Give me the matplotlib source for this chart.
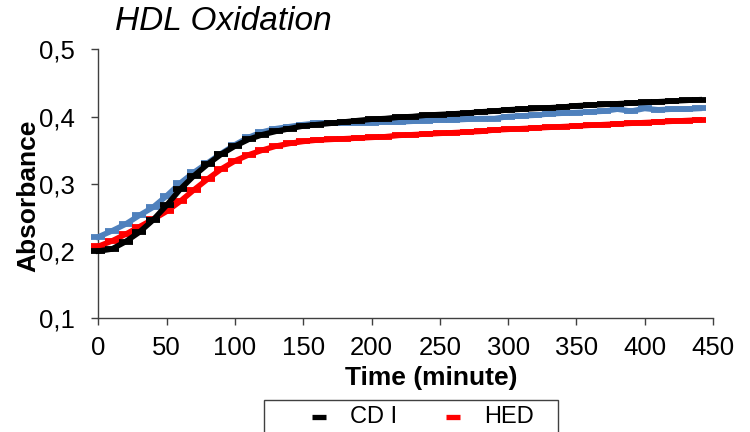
import matplotlib
matplotlib.use("Agg")
import matplotlib.pyplot as plt
from matplotlib.patches import Rectangle
from matplotlib.lines import Line2D

plt.rcParams['font.family'] = ['Liberation Sans', 'DejaVu Sans']

# time points (minutes), read every 10 min from the picture
time_min = [0, 10, 20, 30, 40, 50, 60, 70, 80, 90, 100, 110, 120, 130, 140,
            150, 160, 170, 180, 190, 200, 210, 220, 230, 240, 250, 260, 270,
            280, 290, 300, 310, 320, 330, 340, 350, 360, 370, 380, 390, 400,
            410, 420, 430, 440]

cd_i = [0.200, 0.203, 0.214, 0.228, 0.246, 0.268, 0.292, 0.312, 0.329, 0.344,
        0.356, 0.366, 0.373, 0.378, 0.382, 0.386, 0.388, 0.390, 0.392, 0.394,
        0.396, 0.397, 0.399, 0.400, 0.402, 0.403, 0.404, 0.405, 0.407, 0.408,
        0.410, 0.411, 0.412, 0.413, 0.414, 0.416, 0.417, 0.418, 0.419, 0.420,
        0.421, 0.422, 0.423, 0.424, 0.425]

hed = [0.207, 0.215, 0.225, 0.236, 0.247, 0.259, 0.274, 0.291, 0.307, 0.322,
       0.334, 0.343, 0.350, 0.356, 0.360, 0.363, 0.365, 0.366, 0.367, 0.368,
       0.369, 0.370, 0.372, 0.373, 0.374, 0.375, 0.376, 0.377, 0.378, 0.380,
       0.381, 0.382, 0.383, 0.384, 0.385, 0.386, 0.387, 0.388, 0.389, 0.390,
       0.391, 0.392, 0.393, 0.394, 0.395]

# third series (blue), not named in the visible part of the legend
third = [0.221, 0.230, 0.240, 0.253, 0.265, 0.282, 0.301, 0.317, 0.331, 0.345,
         0.358, 0.369, 0.377, 0.382, 0.385, 0.388, 0.390, 0.390, 0.391, 0.391,
         0.391, 0.392, 0.392, 0.393, 0.394, 0.395, 0.395, 0.396, 0.397, 0.397,
         0.400, 0.401, 0.402, 0.404, 0.405, 0.406, 0.407, 0.408, 0.411, 0.408,
         0.412, 0.410, 0.411, 0.411, 0.412]

x_ticks = [0, 50, 100, 150, 200, 250, 300, 350, 400, 450]
y_ticks = [0.1, 0.2, 0.3, 0.4, 0.5]
y_tick_labels = ['0,1', '0,2', '0,3', '0,4', '0,5']

W, H = 750, 432
fig = plt.figure(figsize=(7.5, 4.32), dpi=100)
ax = fig.add_axes([98.3 / W, 1 - 318.3 / H, (713 - 98.3) / W, (318.3 - 49.3) / H])

# thick line plus flat dash markers -> stepped band like the original
dash = dict(linestyle='-', linewidth=4.0, marker='_', markersize=10.5,
            markeredgewidth=4.2, clip_on=False)
ax.plot(time_min, third, color='#4F81BD', zorder=3, **dash)
ax.plot(time_min, hed, color='#FF0000', zorder=4, **dash)
ax.plot(time_min, cd_i, color='#000000', zorder=5, **dash)

ax.set_xlim(0, 450)
ax.set_ylim(0.1, 0.5)
ax.set_xticks(x_ticks)
ax.set_yticks(y_ticks)
ax.set_yticklabels(y_tick_labels)

for s in ['top', 'right']:
    ax.spines[s].set_visible(False)
for s in ['left', 'bottom']:
    ax.spines[s].set_color('#404040')
    ax.spines[s].set_linewidth(1.0)
ax.tick_params(axis='both', direction='out', length=5, width=1.0, color='#404040',
               labelsize=18.5, labelcolor='black')
ax.tick_params(axis='y', pad=12)
ax.tick_params(axis='x', pad=8)

fig.text(223 / W, 1 - 21 / H, 'HDL Oxidation', fontsize=24, style='italic',
         ha='center', va='center')
fig.text(28 / W, 1 - 196 / H, 'Absorbance', fontsize=19, fontweight='bold',
         rotation=90, ha='center', va='center')
fig.text(431 / W, 1 - 378 / H, 'Time (minute)', fontsize=19, fontweight='bold',
         ha='center', va='center')

# legend box, cut off by the bottom edge as in the original
fig.add_artist(Rectangle((264 / W, 1 - 445 / H), (558 - 264) / W, 45 / H,
                         transform=fig.transFigure, fill=False,
                         edgecolor='#404040', linewidth=1.0))
legend_items = [('CD I', '#000000', 319, 350), ('HED', '#FF0000', 453, 484)]
for name, col, hx, tx in legend_items:
    fig.add_artist(Line2D([(hx - 7) / W, (hx + 7) / W], [1 - 417 / H, 1 - 417 / H],
                          transform=fig.transFigure, color=col, linewidth=3.8,
                          solid_capstyle='butt'))
    fig.text(tx / W, 1 - 417 / H, name, fontsize=17, ha='left', va='center')

fig.savefig('out.png', dpi=100)
